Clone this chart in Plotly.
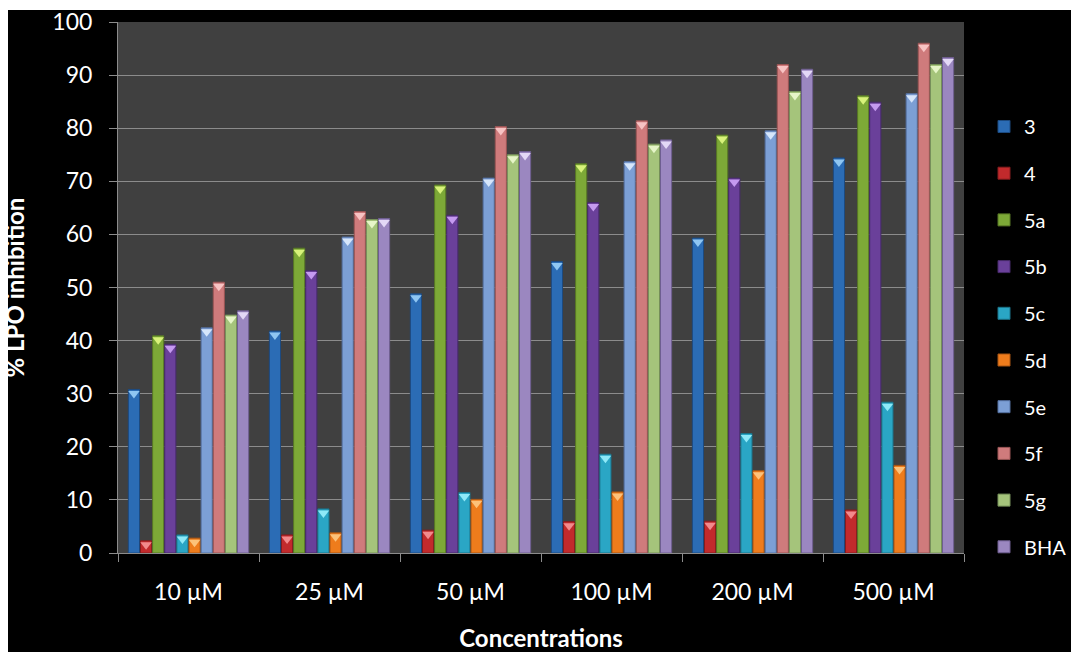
import plotly.graph_objects as go

# Concentration groups on the x axis
concentrations = ["10 µM", "25 µM", "50 µM", "100 µM", "200 µM", "500 µM"]

# % LPO inhibition for each compound at each concentration
cmpd_3 = [30.8, 41.8, 48.8, 54.9, 59.3, 74.4]
cmpd_4 = [2.3, 3.4, 4.3, 5.9, 6.0, 8.1]
cmpd_5a = [40.9, 57.4, 69.3, 73.3, 78.7, 86.1]
cmpd_5b = [39.3, 53.2, 63.6, 66.0, 70.6, 84.9]
cmpd_5c = [3.4, 8.3, 11.4, 18.6, 22.5, 28.4]
cmpd_5d = [2.8, 3.8, 10.1, 11.5, 15.5, 16.5]
cmpd_5e = [42.4, 59.5, 70.6, 73.7, 79.5, 86.5]
cmpd_5f = [51.0, 64.3, 80.3, 81.4, 92.0, 96.0]
cmpd_5g = [44.8, 62.8, 75.0, 77.0, 86.9, 92.0]
cmpd_bha = [45.6, 63.0, 75.6, 77.8, 91.1, 93.3]

series_names = ["3", "4", "5a", "5b", "5c", "5d", "5e", "5f", "5g", "BHA"]
series_values = [cmpd_3, cmpd_4, cmpd_5a, cmpd_5b, cmpd_5c, cmpd_5d,
                 cmpd_5e, cmpd_5f, cmpd_5g, cmpd_bha]
fill_colors = ["#2b6cb5", "#c22a2c", "#7da937", "#6a409a", "#2aa6c5",
               "#ee7c1c", "#7c9fd5", "#cf7b7c", "#a5c47b", "#9b87c0"]
edge_colors = ["#1c4a80", "#861c1e", "#577625", "#472a6a", "#1b7389",
               "#a85512", "#5470a0", "#9a5555", "#76905a", "#6f5f90"]
cap_colors = ["#8fc6f2", "#f28a8c", "#d8f27a", "#c59af0", "#8ee9f7",
              "#fcc27a", "#d6e6fb", "#f7c3c3", "#e6f5c8", "#e3d8f6"]

W, H = 1071, 652
M_L, M_R, M_T, M_B = 118, 107, 22, 99
PW, PH = W - M_L - M_R, H - M_T - M_B

fig = go.Figure()
for name, vals, fc, ec in zip(series_names, series_values, fill_colors, edge_colors):
    fig.add_trace(go.Bar(
        name=name, x=concentrations, y=vals,
        marker=dict(color=fc, line=dict(color=ec, width=1)),
        offsetgroup=name, legendgroup=name,
    ))

# bevelled top of each bar
for name, vals, cc in zip(series_names, series_values, cap_colors):
    fig.add_trace(go.Scatter(
        x=concentrations, y=vals, mode="markers",
        marker=dict(symbol="triangle-down", angle=0, standoff=4, size=10,
                    color=cc, line=dict(width=0)),
        offsetgroup=name, legendgroup=name, showlegend=False,
        hoverinfo="skip",
    ))

font_family = "Lato, 'Open Sans', sans-serif"

fig.update_layout(
    width=W, height=H,
    margin=dict(l=M_L, r=M_R, t=M_T, b=M_B, autoexpand=False),
    paper_bgcolor="#000000",
    plot_bgcolor="#404040",
    barmode="group",
    bargap=0.14,
    bargroupgap=0.08,
    scattermode="group",
    scattergap=0.14,
    font=dict(family=font_family, color="#ffffff"),
    showlegend=True,
    legend=dict(
        x=(984 - M_L) / PW, xanchor="left",
        y=1 - (107 - M_T) / PH, yanchor="top",
        font=dict(size=20, color="#ffffff", family=font_family),
        bgcolor="rgba(0,0,0,0)",
        tracegroupgap=17.7,
        itemwidth=30,
    ),
    xaxis=dict(
        title=dict(text="<b>Concentrations</b>", font=dict(size=24), standoff=26),
        tickfont=dict(size=23, color="#ffffff"),
        showline=True, linecolor="#8c8c8c", linewidth=1,
        ticks="outside", tickson="boundaries", ticklen=8, tickcolor="#8c8c8c",
        ticklabelstandoff=18,
        showgrid=False,
    ),
    yaxis=dict(
        title=dict(text="<b>% LPO inhibition</b>", font=dict(size=24), standoff=26),
        range=[0, 100], dtick=10,
        tickfont=dict(size=23, color="#ffffff"),
        showline=True, linecolor="#8c8c8c", linewidth=1,
        ticks="outside", ticklen=8, tickcolor="#8c8c8c",
        ticklabelstandoff=12,
        showgrid=True, gridcolor="#8c8c8c", gridwidth=1,
        zeroline=False,
    ),
    shapes=[
        # white strips along the top and left edges of the page
        dict(type="rect", xref="paper", yref="paper", layer="above",
             x0=-M_L / PW - 0.05, x1=1 + M_R / PW + 0.05,
             y0=1 + (M_T - 10) / PH, y1=1 + (M_T + 20) / PH,
             fillcolor="#ffffff", line=dict(width=0)),
        dict(type="rect", xref="paper", yref="paper", layer="above",
             x0=-M_L / PW - 0.05, x1=-(M_L - 8) / PW,
             y0=-M_B / PH - 0.05, y1=1 + (M_T + 20) / PH,
             fillcolor="#ffffff", line=dict(width=0)),
    ],
)

fig.write_html("out.html")
